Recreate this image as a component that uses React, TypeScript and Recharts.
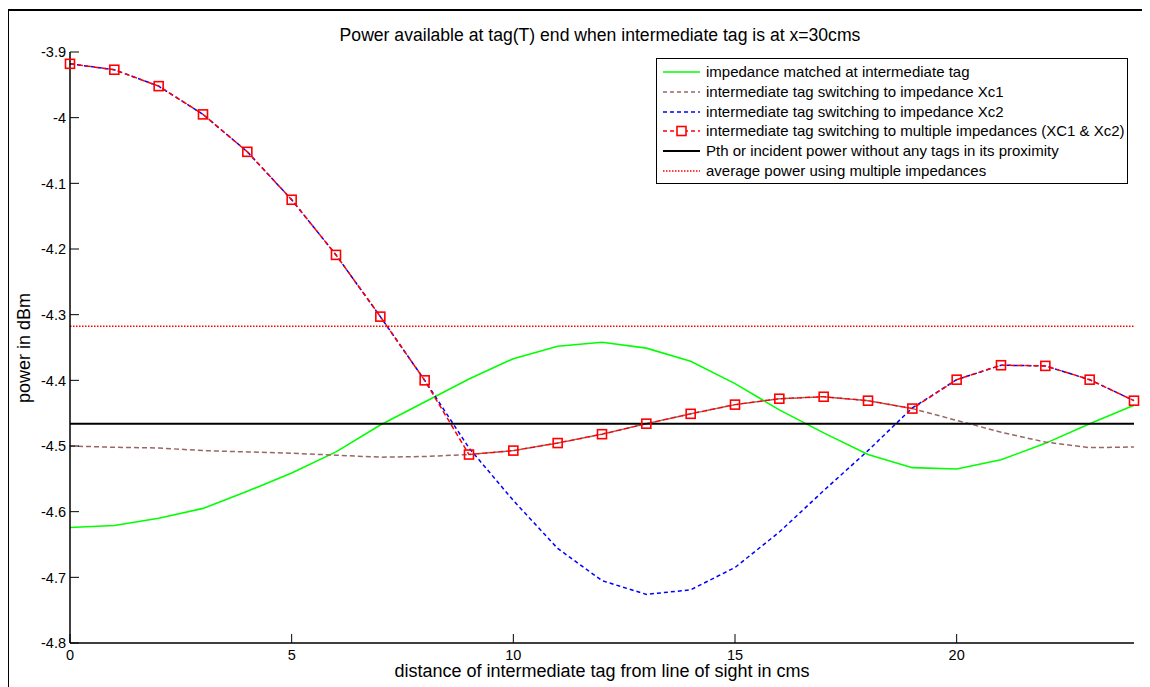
import React from 'react';
import { LineChart, Line, XAxis, YAxis, ReferenceLine, Legend } from 'recharts';

const distances = [0, 1, 2, 3, 4, 5, 6, 7, 8, 9, 10, 11, 12, 13, 14, 15, 16, 17, 18, 19, 20, 21, 22, 23, 24];
const matched = [-4.624, -4.621, -4.61, -4.595, -4.569, -4.541, -4.509, -4.468, -4.433, -4.398, -4.367, -4.348, -4.342, -4.351, -4.371, -4.405, -4.445, -4.48, -4.513, -4.533, -4.535, -4.521, -4.496, -4.466, -4.438];
const xc1 = [-4.5, -4.502, -4.503, -4.507, -4.509, -4.511, -4.514, -4.517, -4.516, -4.513, -4.507, -4.4955, -4.482, -4.466, -4.451, -4.437, -4.428, -4.425, -4.431, -4.443, -4.461, -4.479, -4.494, -4.5025, -4.5015];
const xc2 = [-3.918, -3.927, -3.952, -3.995, -4.052, -4.125, -4.209, -4.303, -4.4, -4.503, -4.583, -4.656, -4.705, -4.726, -4.719, -4.685, -4.631, -4.568, -4.507, -4.442, -4.399, -4.377, -4.378, -4.399, -4.431];
const multiple = [-3.918, -3.927, -3.952, -3.995, -4.052, -4.125, -4.209, -4.303, -4.4, -4.513, -4.507, -4.4955, -4.482, -4.466, -4.451, -4.437, -4.428, -4.425, -4.431, -4.443, -4.399, -4.377, -4.378, -4.399, -4.431];
const pthValue = -4.466;
const averageValue = -4.3175;

const xTicks = [0, 5, 10, 15, 20];
const yTicks = [-4.8, -4.7, -4.6, -4.5, -4.4, -4.3, -4.2, -4.1, -4, -3.9];

const titleText = 'Power available at tag(T) end when intermediate tag is at x=30cms';
const xLabelText = 'distance of intermediate tag from line of sight in cms';
const yLabelText = 'power in dBm';

const legendItems = [
  { name: 'impedance matched at intermediate tag', color: '#00ff00', dash: '', width: 1.5, marker: false },
  { name: 'intermediate tag switching to impedance Xc1', color: '#996666', dash: '4 3', width: 1.5, marker: false },
  { name: 'intermediate tag switching to impedance Xc2', color: '#0000ff', dash: '4 3', width: 1.5, marker: false },
  { name: 'intermediate tag switching to multiple impedances (XC1 & Xc2)', color: '#ff0000', dash: '4 3', width: 1.5, marker: true },
  { name: 'Pth or incident power without any tags in its proximity', color: '#000000', dash: '', width: 2, marker: false },
  { name: 'average power using multiple impedances', color: '#ff0000', dash: '1.5 1.5', width: 1.5, marker: false },
];

const data = distances.map((x, i) => ({
  x,
  matched: matched[i],
  xc1: xc1[i],
  xc2: xc2[i],
  multiple: multiple[i],
}));

const FONT = '"Liberation Sans", Arial, Helvetica, sans-serif';
const fmt = (v: number) => String(Math.round(v * 10) / 10);
const TICK_LEN = 9;
const TICK_FONT = 14.5;

const BottomTick = (props: any) => {
  const { x, y, payload } = props;
  return (
    <g>
      <line x1={x} x2={x} y1={y} y2={y - TICK_LEN} stroke="#000" strokeWidth={1} />
      <text x={x} y={y + 7} dy="0.71em" textAnchor="middle" fontSize={TICK_FONT} fontFamily={FONT} fill="#000">
        {fmt(payload.value)}
      </text>
    </g>
  );
};

const TopTick = (props: any) => {
  const { x, y } = props;
  return <line x1={x} x2={x} y1={y} y2={y + TICK_LEN} stroke="#000" strokeWidth={1} />;
};

const LeftTick = (props: any) => {
  const { x, y, payload } = props;
  return (
    <g>
      <line x1={x} x2={x + TICK_LEN} y1={y} y2={y} stroke="#000" strokeWidth={1} />
      <text x={x - 4} y={y} dy="0.36em" textAnchor="end" fontSize={TICK_FONT} fontFamily={FONT} fill="#000">
        {fmt(payload.value)}
      </text>
    </g>
  );
};

const RightTick = (props: any) => {
  const { x, y } = props;
  return <line x1={x} x2={x - TICK_LEN} y1={y} y2={y} stroke="#000" strokeWidth={1} />;
};

const SquareDot = (props: any) => {
  const { cx, cy, index } = props;
  if (cx == null || cy == null) return <g key={`sq-${index}`} />;
  return (
    <rect key={`sq-${index}`} x={cx - 4.5} y={cy - 4.5} width={9} height={9} fill="none" stroke="#ff0000" strokeWidth={1.6} />
  );
};

const LegendBox = () => (
  <div
    style={{
      width: 470,
      height: 121,
      border: '1px solid #000',
      background: '#fff',
      fontFamily: FONT,
      fontSize: 15,
      color: '#000',
      paddingTop: 3,
      boxSizing: 'content-box',
    }}
  >
    {legendItems.map((it) => (
      <div key={it.name} style={{ height: 19.8, display: 'flex', alignItems: 'center', whiteSpace: 'nowrap' }}>
        <svg width={49} height={20} style={{ flex: 'none' }}>
          <line x1={6} x2={43} y1={10} y2={10} stroke={it.color} strokeWidth={it.width} strokeDasharray={it.dash || undefined} />
          {it.marker ? <rect x={20} y={5.5} width={9} height={9} fill="#fff" stroke={it.color} strokeWidth={1.6} /> : null}
        </svg>
        <span style={{ lineHeight: '20px' }}>{it.name}</span>
      </div>
    ))}
  </div>
);

export default function App() {
  return (
    <div style={{ position: 'relative', width: 1142, height: 679, overflow: 'hidden', fontFamily: FONT, background: '#fff' }}>
      <div
        style={{
          position: 'absolute',
          left: -1,
          top: 1,
          width: 2000,
          height: 2000,
          borderLeft: '2px solid #000',
          borderTop: '2px solid #000',
        }}
      />
      <LineChart width={1142} height={679} data={data} margin={{ top: 44, right: 16, bottom: 0, left: 0 }}>
        <XAxis
          dataKey="x"
          type="number"
          domain={[0, 24]}
          ticks={xTicks}
          interval={0}
          height={44}
          tickLine={false}
          tickSize={0}
          tickMargin={0}
          axisLine={{ stroke: '#000', strokeWidth: 1.5 }}
          tick={<BottomTick />}
        />
        <XAxis
          xAxisId="top"
          dataKey="x"
          type="number"
          orientation="top"
          domain={[0, 24]}
          ticks={xTicks}
          interval={0}
          height={0}
          tickLine={false}
          tickSize={0}
          tickMargin={0}
          axisLine={{ stroke: '#000', strokeWidth: 1.5 }}
          tick={<TopTick />}
        />
        <YAxis
          type="number"
          domain={[-4.8, -3.9]}
          ticks={yTicks}
          interval={0}
          width={62}
          tickLine={false}
          tickSize={0}
          tickMargin={0}
          axisLine={{ stroke: '#000', strokeWidth: 1.5 }}
          tick={<LeftTick />}
          allowDataOverflow
        />
        <YAxis
          yAxisId="right"
          orientation="right"
          type="number"
          domain={[-4.8, -3.9]}
          ticks={yTicks}
          interval={0}
          width={0}
          tickLine={false}
          tickSize={0}
          tickMargin={0}
          axisLine={{ stroke: '#000', strokeWidth: 1.5 }}
          tick={<RightTick />}
        />
        <ReferenceLine y={averageValue} stroke="#ff0000" strokeWidth={1.5} strokeDasharray="1.5 1.5" />
        <Line type="linear" dataKey="matched" name={legendItems[0].name} stroke="#00ff00" strokeWidth={1.6} dot={false} activeDot={false} isAnimationActive={false} />
        <Line type="linear" dataKey="xc1" name={legendItems[1].name} stroke="#996666" strokeWidth={1.5} strokeDasharray="5 3" dot={false} activeDot={false} isAnimationActive={false} />
        <Line type="linear" dataKey="xc2" name={legendItems[2].name} stroke="#0000ff" strokeWidth={1.5} strokeDasharray="4 3" dot={false} activeDot={false} isAnimationActive={false} />
        <Line type="linear" dataKey="multiple" name={legendItems[3].name} stroke="#ff0000" strokeWidth={1.5} strokeDasharray="5 3" dot={SquareDot} activeDot={false} isAnimationActive={false} />
        <ReferenceLine y={pthValue} stroke="#000" strokeWidth={2} />
        <Legend
          layout="vertical"
          align="center"
          verticalAlign="middle"
          content={() => <LegendBox />}
          wrapperStyle={{ left: 648, top: 50, width: 472, height: 124, bottom: 'auto', right: 'auto' }}
        />
      </LineChart>
      <div
        style={{
          position: 'absolute',
          left: 92,
          top: 17,
          width: 1000,
          height: 20,
          lineHeight: '20px',
          textAlign: 'center',
          fontSize: 17.6,
          color: '#000',
          whiteSpace: 'nowrap',
        }}
      >
        {titleText}
      </div>
      <div
        style={{
          position: 'absolute',
          left: 94,
          top: 653,
          width: 1000,
          height: 20,
          lineHeight: '20px',
          textAlign: 'center',
          fontSize: 18,
          color: '#000',
          whiteSpace: 'nowrap',
        }}
      >
        {xLabelText}
      </div>
      <div
        style={{
          position: 'absolute',
          left: 16 - 200,
          top: 339.5 - 10,
          width: 400,
          height: 20,
          lineHeight: '20px',
          textAlign: 'center',
          fontSize: 18,
          color: '#000',
          whiteSpace: 'nowrap',
          transform: 'rotate(-90deg)',
        }}
      >
        {yLabelText}
      </div>
    </div>
  );
}
